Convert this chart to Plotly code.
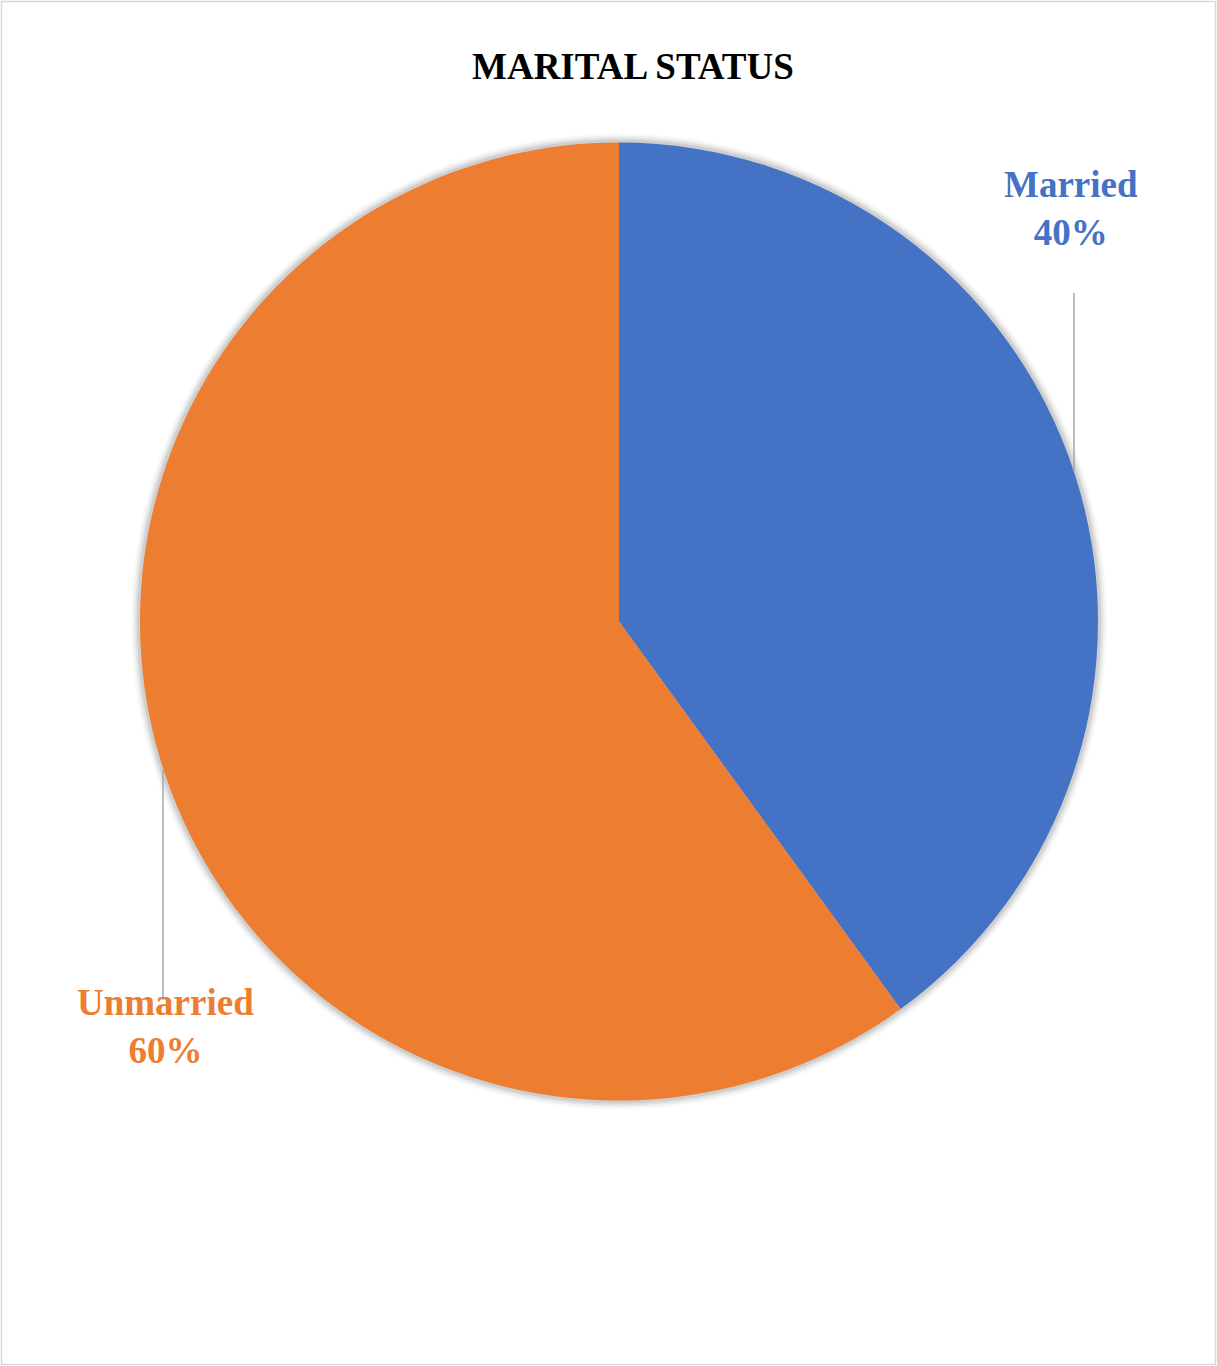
import plotly.graph_objects as go

# Marital status breakdown (percent)
labels = ["Married", "Unmarried"]
values = [40, 60]
colors = ["#4472C4", "#ED7D31"]

W, H = 1217, 1366
# pie geometry in pixels
cx, cy, r = 619, 621.5, 479


def px_x(x):
    return x / W


def px_y(y):
    return 1 - y / H


fig = go.Figure()

fig.add_trace(go.Pie(
    labels=labels,
    values=values,
    sort=False,
    direction="clockwise",
    rotation=0,
    marker=dict(colors=colors, line=dict(width=0)),
    textinfo="none",
    hoverinfo="label+percent",
    showlegend=False,
    domain=dict(x=[px_x(cx - r), px_x(cx + r)], y=[px_y(cy + r), px_y(cy - r)]),
))

# soft shadow around the pie
shapes = []
for k, op in [(9, 0.025), (7, 0.04), (5, 0.06), (3, 0.08)]:
    shapes.append(dict(
        type="circle", xref="paper", yref="paper", layer="below",
        x0=px_x(cx - r - k), x1=px_x(cx + r + k),
        y0=px_y(cy + r + k), y1=px_y(cy - r - k),
        fillcolor=f"rgba(0,0,0,{op})", line=dict(width=0),
    ))

# leader lines
for x, y0, y1 in [(1074, 293, 472), (163, 770, 1000)]:
    shapes.append(dict(
        type="line", xref="paper", yref="paper",
        x0=px_x(x), x1=px_x(x), y0=px_y(y0), y1=px_y(y1),
        line=dict(color="#A6A6A6", width=1.5),
    ))

# chart border
shapes.append(dict(
    type="rect", xref="paper", yref="paper",
    x0=px_x(1.5), x1=px_x(1215.5), y0=px_y(1364.5), y1=px_y(1.5),
    line=dict(color="#D9D9D9", width=1.5), fillcolor="rgba(0,0,0,0)",
))

total = sum(values)
label_pos = [(1071, 209), (165, 1026)]
annotations = []
for lab, val, col, (lx, ly) in zip(labels, values, colors, label_pos):
    annotations.append(dict(
        text=f"<b>{lab}<br>{round(val / total * 100)}%</b>",
        x=px_x(lx), y=px_y(ly), xref="paper", yref="paper",
        xanchor="center", yanchor="middle", showarrow=False,
        font=dict(family="Liberation Serif", size=37, color=col),
    ))

annotations.append(dict(
    text="<b>MARITAL STATUS</b>",
    x=px_x(633), y=px_y(67), xref="paper", yref="paper",
    xanchor="center", yanchor="middle", showarrow=False,
    font=dict(family="Liberation Serif", size=37, color="#000000"),
))

fig.update_layout(
    width=W, height=H,
    margin=dict(l=0, r=0, t=0, b=0),
    paper_bgcolor="white",
    plot_bgcolor="white",
    shapes=shapes,
    annotations=annotations,
)

fig.write_html("out.html")
